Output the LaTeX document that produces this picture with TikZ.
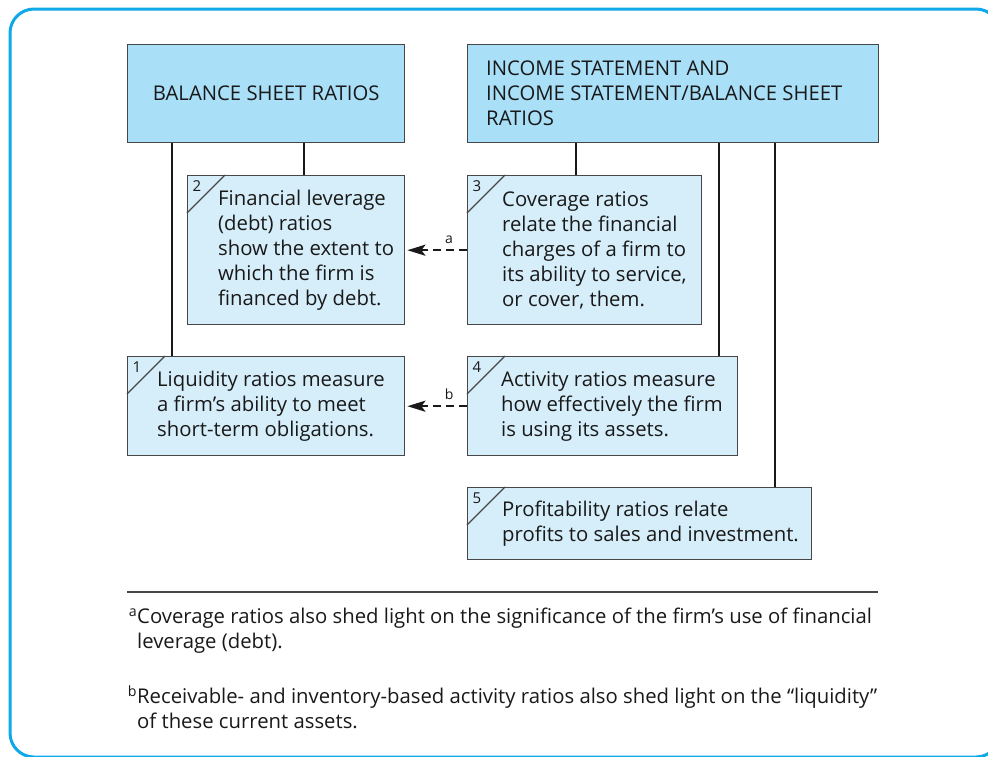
\documentclass[tikz,border=0pt]{standalone}
\usepackage{fontspec}
\setmainfont{Open Sans}
\usetikzlibrary{positioning, arrows.meta}
\definecolor{headblue}{HTML}{AADFF8}
\definecolor{boxblue}{HTML}{D6EEFA}
\definecolor{framecyan}{HTML}{0FA8E8}
\definecolor{edgegray}{HTML}{474747}

\begin{document}
\begin{tikzpicture}[
    x=1pt, y=-1pt,
    every node/.style={inner sep=0pt, font=\fontsize{20.3}{25}\selectfont},
    headbox/.style={draw=edgegray, fill=headblue, line width=1.4pt, anchor=north west},
    ratiobox/.style={draw=edgegray, fill=boxblue, line width=1.4pt, anchor=north west},
    boxtext/.style={anchor=west, align=left, text=black!90},
    link/.style={line width=2.8pt, black!90},
    dasharrow/.style={line width=2.4pt, black!90, dash pattern=on 8pt off 5pt,
      -{Stealth[length=18pt, width=11pt, inset=4pt]}},
    notelabel/.style={font=\fontsize{14}{14}\selectfont, text=black!90}
  ]
  \useasboundingbox (0,0) rectangle (988,756);
  \clip (0,0) rectangle (988,756);
  \draw[framecyan, line width=3pt, rounded corners=24pt] (10,9) rectangle (1000,757);

  % header boxes
  \node[headbox, minimum width=277pt, minimum height=98pt] (bsr) at (127,44) {};
  \node[headbox, minimum width=411pt, minimum height=98pt] (isr) at (467,44) {};
  \node[boxtext, anchor=center] (bsrtext) at (bsr.center) {BALANCE SHEET RATIOS};
  \node[boxtext] (isrtext) at ([xshift=19pt]isr.west)
    {INCOME STATEMENT AND\\INCOME STATEMENT/BALANCE SHEET\\RATIOS};

  % ratio boxes
  \node[ratiobox, minimum width=217pt, minimum height=149pt] (lev) at (187,175) {};
  \node[ratiobox, minimum width=234pt, minimum height=149pt] (cov) at (467,175) {};
  \node[ratiobox, minimum width=277pt, minimum height=99pt] (liq) at (127,356) {};
  \node[ratiobox, minimum width=270pt, minimum height=99pt] (act) at (467,356) {};
  \node[ratiobox, minimum width=344pt, minimum height=72pt] (prof) at (467,487) {};

  \node[boxtext] (levtext) at ([xshift=31pt]lev.west)
    {Financial leverage\\(debt) ratios\\show the extent to\\which the firm is\\financed by debt.};
  \node[boxtext] (covtext) at ([xshift=35pt]cov.west)
    {Coverage ratios\\relate the financial\\charges of a firm to\\its ability to service,\\or cover, them.};
  \node[boxtext] (liqtext) at ([xshift=30pt]liq.west)
    {Liquidity ratios measure\\a firm's ability to meet\\short-term obligations.};
  \node[boxtext] (acttext) at ([xshift=34pt]act.west)
    {Activity ratios measure\\how effectively the firm\\is using its assets.};
  \node[boxtext] (proftext) at ([xshift=35pt]prof.west)
    {Profitability ratios relate\\profits to sales and investment.};

  % numbered corners
  \foreach \b/\n in {liq/1, lev/2, cov/3, act/4, prof/5} {
    \draw[edgegray, line width=1.2pt] ([yshift=-38pt]\b.north west) -- ([xshift=38pt]\b.north west);
    \node[notelabel, font=\fontsize{15}{15}\selectfont] (num\n) at ([xshift=10pt, yshift=-11pt]\b.north west) {\n};
  }

  % tree lines
  \draw[link] ([xshift=45pt]bsr.south west) -- ([xshift=45pt]liq.north west);
  \draw[link] ([xshift=177pt]bsr.south west) -- ([xshift=117pt]lev.north west);
  \draw[link] ([xshift=109pt]isr.south west) -- ([xshift=109pt]cov.north west);
  \draw[link] ([xshift=252pt]isr.south west) -- ([xshift=252pt]act.north west);
  \draw[link] ([xshift=308pt]isr.south west) -- ([xshift=308pt]prof.north west);

  % cross references
  \draw[dasharrow] (cov.west) -- node[notelabel, above=5pt, pos=0.3] (refa) {a} ([xshift=2pt]lev.east);
  \draw[dasharrow] (act.west) -- node[notelabel, above=5pt, pos=0.3] (refb) {b} ([xshift=2pt]liq.east);

  % footnotes
  \draw[edgegray, line width=1.4pt] (127,592) -- (878,592);
  \node[boxtext] (notea) at (137,631)
    {\llap{\textsuperscript{a}}Coverage ratios also shed light on the significance of the firm's use of financial\\leverage (debt).};
  \node[boxtext] (noteb) at (137,707)
    {\llap{\textsuperscript{b}}Receivable- and inventory-based activity ratios also shed light on the ``liquidity''\\of these current assets.};
\end{tikzpicture}
\end{document}
